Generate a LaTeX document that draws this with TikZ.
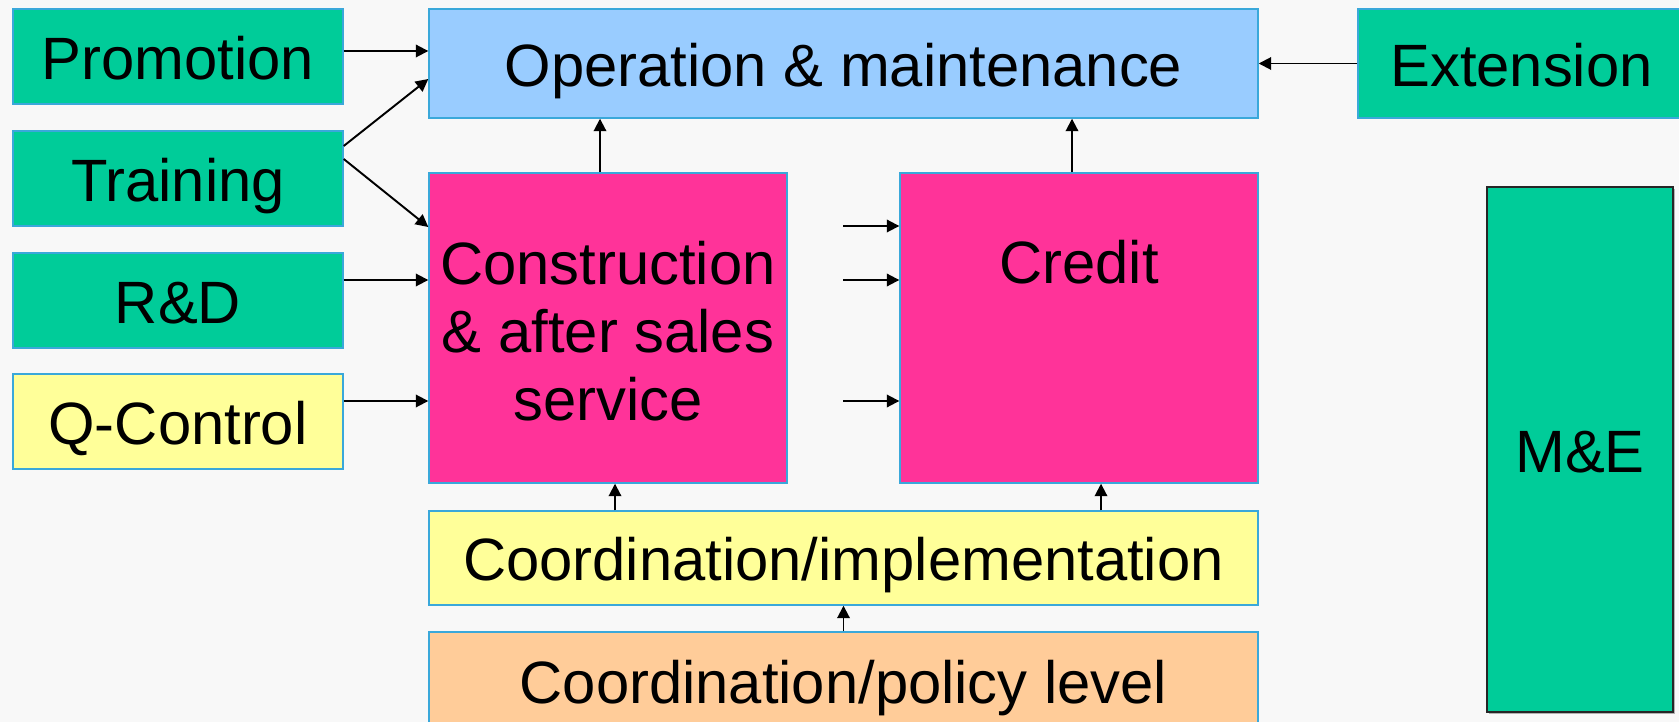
\documentclass[tikz,border=0pt]{standalone}
\usepackage{fontspec}
\setmainfont{Liberation Sans}
\usetikzlibrary{arrows.meta}
\definecolor{bg}{HTML}{F8F8F8}
\definecolor{boxgreen}{HTML}{00CC99}
\definecolor{boxblue}{HTML}{99CCFF}
\definecolor{boxpink}{HTML}{FF3399}
\definecolor{boxyellow}{HTML}{FFFF99}
\definecolor{boxorange}{HTML}{FFCC99}
\definecolor{edgeblue}{HTML}{3AA8DA}
\tikzset{
  box/.style={rectangle, draw=edgeblue, line width=0.8pt, inner sep=0pt,
    font=\fontsize{34}{40}\selectfont, align=center},
  oneline/.style={text height=26pt, text depth=0pt},
  arr/.style={draw=black, line width=1.1pt, -{Triangle[length=0.25cm,width=0.25cm]}},
}
\begin{document}
\begin{tikzpicture}
\useasboundingbox (0,0) rectangle (33.58,-14.44);
\fill[bg] (0,0) rectangle (33.58,-14.44);

% left column
\node[box, oneline, fill=boxgreen, minimum width=6.6cm, minimum height=1.9cm] (prom) at (3.56,-1.13) {Promotion};
\node[box, oneline, fill=boxgreen, minimum width=6.6cm, minimum height=1.9cm] (train) at (3.56,-3.57) {Training};
\node[box, oneline, fill=boxgreen, minimum width=6.6cm, minimum height=1.9cm] (rd) at (3.56,-6.01) {R\&D};
\node[box, oneline, fill=boxyellow, minimum width=6.6cm, minimum height=1.9cm] (qc) at (3.56,-8.43) {Q-Control};

% centre
\node[box, oneline, fill=boxblue, minimum width=16.58cm, minimum height=2.18cm] (op) at (16.87,-1.27) {Operation \& maintenance};
\node[box, oneline, fill=boxgreen, minimum width=6.54cm, minimum height=2.18cm] (ext) at (30.43,-1.27) {Extension};
\node[box, fill=boxpink, minimum width=7.16cm, minimum height=6.2cm] (cons) at (12.16,-6.56) {};
\node[font=\fontsize{34}{40}\selectfont, align=center, inner sep=0pt] (constxt) at (12.16,-6.62) {Construction\\[-0.04cm]\& after sales\\[-0.04cm]service};
\node[box, fill=boxpink, minimum width=7.16cm, minimum height=6.2cm] (cred) at (21.58,-6.56) {};
\node[font=\fontsize{34}{40}\selectfont, inner sep=0pt] (credtxt) at (21.58,-5.24) {Credit};
\node[box, oneline, fill=boxyellow, minimum width=16.58cm, minimum height=1.88cm] (impl) at (16.87,-11.16) {Coordination/implementation};
\node[box, oneline, fill=boxorange, minimum width=16.58cm, minimum height=1.96cm] (pol) at (16.87,-13.62) {Coordination/policy level};

% M&E
\fill[gray!60] (29.78,-3.78) rectangle (33.50,-14.28);
\node[rectangle, oneline, draw=black!85, line width=1.1pt, fill=boxgreen, minimum width=3.72cm, minimum height=10.5cm,
  inner sep=0pt, font=\fontsize{34}{40}\selectfont] (me) at (31.6,-8.99) {M\&E};

% arrows
\draw[arr] ([yshift=0.11cm]prom.east) -- ([yshift=0.11cm]prom.east -| op.west);
\draw[arr] ([yshift=0.65cm]train.east) -- ([yshift=-0.31cm]op.west);
\draw[arr] ([yshift=0.39cm]train.east) -- ([yshift=2.02cm]cons.west);
\draw[arr] ([yshift=0.41cm]rd.east) -- ([yshift=0.41cm]rd.east -| cons.west);
\draw[arr] ([yshift=0.41cm]qc.east) -- ([yshift=0.41cm]qc.east -| cons.west);
\draw[arr] ([xshift=-0.16cm]cons.north) -- ([xshift=-0.16cm]cons.north |- op.south);
\draw[arr] ([xshift=-0.14cm]cred.north) -- ([xshift=-0.14cm]cred.north |- op.south);
\draw[arr] (ext.west) -- (ext.west -| op.east);

\coordinate (c1) at (16.86,-4.52);
\coordinate (c2) at (16.86,-5.60);
\coordinate (c3) at (16.86,-8.02);
\draw[arr] (c1) -- (c1 -| cred.west);
\draw[arr] (c2) -- (c2 -| cred.west);
\draw[arr] (c3) -- (c3 -| cred.west);

\draw[arr] ([xshift=0.14cm]impl.north -| cons.south) -- ([xshift=0.14cm]cons.south);
\draw[arr] ([xshift=0.44cm]impl.north -| cred.south) -- ([xshift=0.44cm]cred.south);
\draw[arr] (pol.north) -- (impl.south);
\end{tikzpicture}
\end{document}
